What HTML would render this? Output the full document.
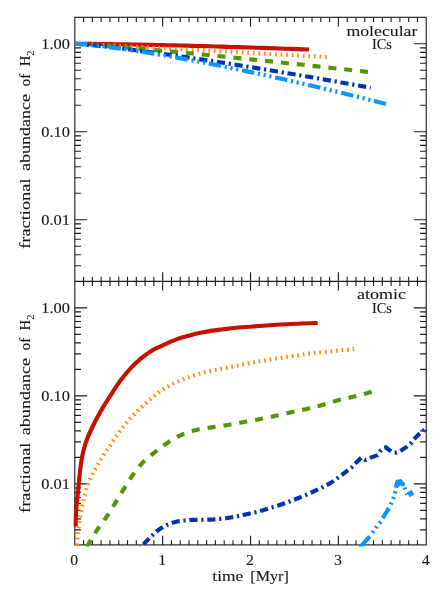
<!DOCTYPE html>
<html><head><meta charset="utf-8"><title>Fractional abundance of H2</title>
<style>html,body{margin:0;padding:0;background:#fff}svg{display:block;will-change:transform}text{font-family:"Liberation Serif",serif;fill:#151515;stroke:#151515;stroke-width:0.1px}.c path{fill:none;stroke-width:4.15;stroke-linecap:butt;stroke-linejoin:miter}</style></head><body>
<svg width="443" height="598" viewBox="0 0 443 598">
<rect width="443" height="598" fill="#fff"/>
<defs><clipPath id="cb"><rect x="0" y="281.4" width="443" height="265"/></clipPath></defs>
<g fill="none" stroke="#1c1c1c" stroke-width="1.12">
<rect x="74.8" y="17.3" width="351.45" height="527.6"/>
<path d="M74.8 281.4H426.25"/>
<path d="M83.59 17.3L83.59 21.9M83.59 276.8L83.59 286M83.59 540.3L83.59 544.9M92.37 17.3L92.37 21.9M92.37 276.8L92.37 286M92.37 540.3L92.37 544.9M101.16 17.3L101.16 21.9M101.16 276.8L101.16 286M101.16 540.3L101.16 544.9M109.94 17.3L109.94 21.9M109.94 276.8L109.94 286M109.94 540.3L109.94 544.9M118.73 17.3L118.73 21.9M118.73 276.8L118.73 286M118.73 540.3L118.73 544.9M127.52 17.3L127.52 21.9M127.52 276.8L127.52 286M127.52 540.3L127.52 544.9M136.3 17.3L136.3 21.9M136.3 276.8L136.3 286M136.3 540.3L136.3 544.9M145.09 17.3L145.09 21.9M145.09 276.8L145.09 286M145.09 540.3L145.09 544.9M153.88 17.3L153.88 21.9M153.88 276.8L153.88 286M153.88 540.3L153.88 544.9M162.66 17.3L162.66 26.5M162.66 272.2L162.66 290.6M162.66 535.7L162.66 544.9M171.45 17.3L171.45 21.9M171.45 276.8L171.45 286M171.45 540.3L171.45 544.9M180.23 17.3L180.23 21.9M180.23 276.8L180.23 286M180.23 540.3L180.23 544.9M189.02 17.3L189.02 21.9M189.02 276.8L189.02 286M189.02 540.3L189.02 544.9M197.81 17.3L197.81 21.9M197.81 276.8L197.81 286M197.81 540.3L197.81 544.9M206.59 17.3L206.59 21.9M206.59 276.8L206.59 286M206.59 540.3L206.59 544.9M215.38 17.3L215.38 21.9M215.38 276.8L215.38 286M215.38 540.3L215.38 544.9M224.17 17.3L224.17 21.9M224.17 276.8L224.17 286M224.17 540.3L224.17 544.9M232.95 17.3L232.95 21.9M232.95 276.8L232.95 286M232.95 540.3L232.95 544.9M241.74 17.3L241.74 21.9M241.74 276.8L241.74 286M241.74 540.3L241.74 544.9M250.52 17.3L250.52 26.5M250.52 272.2L250.52 290.6M250.52 535.7L250.52 544.9M259.31 17.3L259.31 21.9M259.31 276.8L259.31 286M259.31 540.3L259.31 544.9M268.1 17.3L268.1 21.9M268.1 276.8L268.1 286M268.1 540.3L268.1 544.9M276.88 17.3L276.88 21.9M276.88 276.8L276.88 286M276.88 540.3L276.88 544.9M285.67 17.3L285.67 21.9M285.67 276.8L285.67 286M285.67 540.3L285.67 544.9M294.46 17.3L294.46 21.9M294.46 276.8L294.46 286M294.46 540.3L294.46 544.9M303.24 17.3L303.24 21.9M303.24 276.8L303.24 286M303.24 540.3L303.24 544.9M312.03 17.3L312.03 21.9M312.03 276.8L312.03 286M312.03 540.3L312.03 544.9M320.81 17.3L320.81 21.9M320.81 276.8L320.81 286M320.81 540.3L320.81 544.9M329.6 17.3L329.6 21.9M329.6 276.8L329.6 286M329.6 540.3L329.6 544.9M338.39 17.3L338.39 26.5M338.39 272.2L338.39 290.6M338.39 535.7L338.39 544.9M347.17 17.3L347.17 21.9M347.17 276.8L347.17 286M347.17 540.3L347.17 544.9M355.96 17.3L355.96 21.9M355.96 276.8L355.96 286M355.96 540.3L355.96 544.9M364.75 17.3L364.75 21.9M364.75 276.8L364.75 286M364.75 540.3L364.75 544.9M373.53 17.3L373.53 21.9M373.53 276.8L373.53 286M373.53 540.3L373.53 544.9M382.32 17.3L382.32 21.9M382.32 276.8L382.32 286M382.32 540.3L382.32 544.9M391.1 17.3L391.1 21.9M391.1 276.8L391.1 286M391.1 540.3L391.1 544.9M399.89 17.3L399.89 21.9M399.89 276.8L399.89 286M399.89 540.3L399.89 544.9M408.68 17.3L408.68 21.9M408.68 276.8L408.68 286M408.68 540.3L408.68 544.9M417.46 17.3L417.46 21.9M417.46 276.8L417.46 286M417.46 540.3L417.46 544.9M74.8 43.79L87.1 43.79M413.95 43.79L426.25 43.79M74.8 131.79L87.1 131.79M413.95 131.79L426.25 131.79M74.8 105.3L80.95 105.3M420.1 105.3L426.25 105.3M74.8 89.8L80.95 89.8M420.1 89.8L426.25 89.8M74.8 78.81L80.95 78.81M420.1 78.81L426.25 78.81M74.8 70.28L80.95 70.28M420.1 70.28L426.25 70.28M74.8 63.31L80.95 63.31M420.1 63.31L426.25 63.31M74.8 57.42L80.95 57.42M420.1 57.42L426.25 57.42M74.8 52.32L80.95 52.32M420.1 52.32L426.25 52.32M74.8 47.82L80.95 47.82M420.1 47.82L426.25 47.82M74.8 219.79L87.1 219.79M413.95 219.79L426.25 219.79M74.8 193.3L80.95 193.3M420.1 193.3L426.25 193.3M74.8 177.8L80.95 177.8M420.1 177.8L426.25 177.8M74.8 166.81L80.95 166.81M420.1 166.81L426.25 166.81M74.8 158.28L80.95 158.28M420.1 158.28L426.25 158.28M74.8 151.31L80.95 151.31M420.1 151.31L426.25 151.31M74.8 145.42L80.95 145.42M420.1 145.42L426.25 145.42M74.8 140.32L80.95 140.32M420.1 140.32L426.25 140.32M74.8 135.82L80.95 135.82M420.1 135.82L426.25 135.82M74.8 265.8L80.95 265.8M420.1 265.8L426.25 265.8M74.8 254.81L80.95 254.81M420.1 254.81L426.25 254.81M74.8 246.28L80.95 246.28M420.1 246.28L426.25 246.28M74.8 239.31L80.95 239.31M420.1 239.31L426.25 239.31M74.8 233.42L80.95 233.42M420.1 233.42L426.25 233.42M74.8 228.32L80.95 228.32M420.1 228.32L426.25 228.32M74.8 223.82L80.95 223.82M420.1 223.82L426.25 223.82M74.8 307.89L87.1 307.89M413.95 307.89L426.25 307.89M74.8 395.89L87.1 395.89M413.95 395.89L426.25 395.89M74.8 369.4L80.95 369.4M420.1 369.4L426.25 369.4M74.8 353.9L80.95 353.9M420.1 353.9L426.25 353.9M74.8 342.91L80.95 342.91M420.1 342.91L426.25 342.91M74.8 334.38L80.95 334.38M420.1 334.38L426.25 334.38M74.8 327.41L80.95 327.41M420.1 327.41L426.25 327.41M74.8 321.52L80.95 321.52M420.1 321.52L426.25 321.52M74.8 316.42L80.95 316.42M420.1 316.42L426.25 316.42M74.8 311.92L80.95 311.92M420.1 311.92L426.25 311.92M74.8 483.89L87.1 483.89M413.95 483.89L426.25 483.89M74.8 457.4L80.95 457.4M420.1 457.4L426.25 457.4M74.8 441.9L80.95 441.9M420.1 441.9L426.25 441.9M74.8 430.91L80.95 430.91M420.1 430.91L426.25 430.91M74.8 422.38L80.95 422.38M420.1 422.38L426.25 422.38M74.8 415.41L80.95 415.41M420.1 415.41L426.25 415.41M74.8 409.52L80.95 409.52M420.1 409.52L426.25 409.52M74.8 404.42L80.95 404.42M420.1 404.42L426.25 404.42M74.8 399.92L80.95 399.92M420.1 399.92L426.25 399.92M74.8 529.9L80.95 529.9M420.1 529.9L426.25 529.9M74.8 518.91L80.95 518.91M420.1 518.91L426.25 518.91M74.8 510.38L80.95 510.38M420.1 510.38L426.25 510.38M74.8 503.41L80.95 503.41M420.1 503.41L426.25 503.41M74.8 497.52L80.95 497.52M420.1 497.52L426.25 497.52M74.8 492.42L80.95 492.42M420.1 492.42L426.25 492.42M74.8 487.92L80.95 487.92M420.1 487.92L426.25 487.92"/>
</g>
<g class="c">
<path d="M74.8 43.79 L80.66 43.81 L86.51 43.86 L92.36 43.91 L98.22 43.97 L104.07 44.05 L109.93 44.13 L115.78 44.21 L121.64 44.31 L127.49 44.41 L133.35 44.51 L139.2 44.62 L145.06 44.74 L150.91 44.86 L156.77 44.98 L162.62 45.11 L168.48 45.25 L174.33 45.39 L180.19 45.53 L186.05 45.68 L191.9 45.83 L197.75 45.98 L203.61 46.14 L209.46 46.3 L215.32 46.47 L221.18 46.64 L227.03 46.81 L232.88 46.98 L238.74 47.16 L244.59 47.35 L250.45 47.53 L256.31 47.72 L262.16 47.91 L268.01 48.11 L273.87 48.3 L279.73 48.5 L285.58 48.71 L291.44 48.91 L297.29 49.12 L303.14 49.34 L309 49.55" stroke="#c41100"/>
<path d="M74.8 43.79 L81.11 44.07 L87.41 44.36 L93.72 44.67 L100.03 44.98 L106.34 45.29 L112.65 45.61 L118.95 45.93 L125.26 46.25 L131.57 46.57 L137.88 46.9 L144.18 47.22 L150.49 47.55 L156.8 47.88 L163.11 48.21 L169.41 48.54 L175.72 48.88 L182.03 49.21 L188.34 49.55 L194.64 49.88 L200.95 50.22 L207.26 50.56 L213.56 50.9 L219.87 51.23 L226.18 51.57 L232.49 51.92 L238.8 52.26 L245.1 52.6 L251.41 52.94 L257.72 53.29 L264.02 53.63 L270.33 53.97 L276.64 54.32 L282.95 54.67 L289.25 55.01 L295.56 55.36 L301.87 55.71 L308.18 56.05 L314.49 56.4 L320.79 56.75 L327.1 57.1" stroke="#ff8c0a" stroke-dasharray="1.7 3.87"/>
<path d="M74.8 43.79 L82.14 44.18 L89.48 44.66 L96.83 45.19 L104.17 45.74 L111.51 46.32 L118.85 46.91 L126.2 47.53 L133.54 48.15 L140.88 48.79 L148.22 49.44 L155.57 50.1 L162.91 50.77 L170.25 51.45 L177.59 52.14 L184.94 52.83 L192.28 53.54 L199.62 54.25 L206.96 54.96 L214.31 55.69 L221.65 56.41 L228.99 57.15 L236.33 57.89 L243.68 58.64 L251.02 59.39 L258.36 60.14 L265.7 60.91 L273.05 61.67 L280.39 62.44 L287.73 63.22 L295.07 64 L302.42 64.78 L309.76 65.57 L317.1 66.36 L324.44 67.15 L331.79 67.95 L339.13 68.75 L346.47 69.56 L353.81 70.37 L361.16 71.18 L368.5 72" stroke="#559600" stroke-dasharray="8.01 7.91"/>
<path d="M74.8 43.79 L82.2 44.29 L89.59 44.95 L96.99 45.68 L104.39 46.47 L111.79 47.31 L119.19 48.18 L126.58 49.08 L133.98 50.01 L141.38 50.97 L148.77 51.95 L156.17 52.95 L163.57 53.97 L170.97 55.01 L178.36 56.07 L185.76 57.14 L193.16 58.23 L200.56 59.33 L207.95 60.45 L215.35 61.58 L222.75 62.72 L230.15 63.87 L237.54 65.04 L244.94 66.22 L252.34 67.41 L259.74 68.61 L267.13 69.82 L274.53 71.04 L281.93 72.27 L289.33 73.51 L296.73 74.76 L304.12 76.01 L311.52 77.28 L318.92 78.55 L326.31 79.84 L333.71 81.13 L341.11 82.43 L348.51 83.73 L355.9 85.05 L363.3 86.37 L370.7 87.7" stroke="#0032b4" stroke-dasharray="8.2 3.75 2.2 3.75"/>
<path d="M74.8 43.79 L82.58 44.26 L90.36 44.95 L98.14 45.77 L105.92 46.68 L113.7 47.67 L121.48 48.72 L129.26 49.83 L137.04 51 L144.82 52.21 L152.6 53.46 L160.38 54.75 L168.16 56.09 L175.94 57.46 L183.72 58.86 L191.5 60.29 L199.28 61.76 L207.06 63.25 L214.84 64.77 L222.62 66.32 L230.4 67.9 L238.18 69.5 L245.96 71.13 L253.74 72.78 L261.52 74.45 L269.3 76.14 L277.08 77.86 L284.86 79.6 L292.64 81.36 L300.42 83.13 L308.2 84.93 L315.98 86.75 L323.76 88.58 L331.54 90.44 L339.32 92.31 L347.1 94.2 L354.88 96.11 L362.66 98.03 L370.44 99.97 L378.22 101.93 L386 103.9" stroke="#0a96ff" stroke-dasharray="12.5 3.7 2.2 3.65 2.2 3.65 2.2 3.78"/>
</g>
<g class="c" clip-path="url(#cb)">
<path d="M75.7 526.5 C75.78 523.75 75.8 515.92 76.2 510 C76.6 504.08 77.52 497 78.1 491 C78.68 485 79.02 479.77 79.7 474 C80.38 468.23 81.15 461.73 82.2 456.4 C83.25 451.07 84.53 446.4 86 442 C87.47 437.6 88.58 435.07 91 430 C93.42 424.93 97.23 417.38 100.5 411.6 C103.77 405.82 107.22 400.55 110.6 395.3 C113.98 390.05 117.4 384.67 120.8 380.1 C124.2 375.53 127.62 371.52 131 367.9 C134.38 364.28 137.72 361.22 141.1 358.4 C144.48 355.58 148.15 352.97 151.3 351 C154.45 349.03 156.85 348.12 160 346.6 C163.15 345.08 166.82 343.33 170.2 341.9 C173.58 340.47 176.92 339.12 180.3 338 C183.68 336.88 187.12 336.07 190.5 335.2 C193.88 334.33 197.22 333.52 200.6 332.8 C203.98 332.08 207.4 331.45 210.8 330.9 C214.2 330.35 217.62 329.93 221 329.5 C224.38 329.07 227.72 328.67 231.1 328.3 C234.48 327.93 238.15 327.57 241.3 327.3 C244.45 327.03 245.17 327.05 250 326.7 C254.83 326.35 263.53 325.65 270.3 325.2 C277.07 324.75 282.7 324.37 290.6 324 C298.5 323.63 313.18 323.17 317.7 323" stroke="#c41100"/>
<path d="M77 548 L77.03 547.4 L77.07 546.64 L77.11 545.74 L77.16 544.74 L77.21 543.65 L77.26 542.49 L77.32 541.3 L77.39 540.1 L77.46 538.9 L77.53 537.73 L77.61 536.63 L77.7 535.6 L77.79 534.65 L77.87 533.76 L77.96 532.9 L78.05 532.07 L78.15 531.25 L78.25 530.42 L78.36 529.57 L78.48 528.69 L78.61 527.75 L78.76 526.75 L78.92 525.67 L79.1 524.5 L79.3 523.22 L79.51 521.86 L79.73 520.41 L79.97 518.9 L80.22 517.33 L80.48 515.74 L80.75 514.12 L81.03 512.49 L81.31 510.87 L81.61 509.28 L81.9 507.71 L82.2 506.2 L82.51 504.7 L82.83 503.18 L83.16 501.64 L83.5 500.09 L83.84 498.56 L84.19 497.04 L84.55 495.55 L84.9 494.1 L85.26 492.7 L85.61 491.36 L85.96 490.09 L86.3 488.9 L86.62 487.82 L86.93 486.86 L87.21 485.99 L87.49 485.19 L87.77 484.44 L88.05 483.73 L88.35 483.01 L88.67 482.29 L89.01 481.52 L89.4 480.7 L89.82 479.8 L90.3 478.8 L90.83 477.7 L91.4 476.54 L92.01 475.31 L92.66 474.04 L93.33 472.74 L94.03 471.41 L94.74 470.06 L95.47 468.71 L96.2 467.37 L96.94 466.05 L97.67 464.75 L98.4 463.5 L99.12 462.29 L99.83 461.11 L100.55 459.96 L101.27 458.83 L102 457.7 L102.74 456.58 L103.5 455.44 L104.27 454.28 L105.06 453.1 L105.88 451.88 L106.72 450.62 L107.6 449.3 L108.51 447.91 L109.47 446.46 L110.46 444.94 L111.48 443.39 L112.52 441.8 L113.57 440.21 L114.64 438.61 L115.7 437.04 L116.75 435.49 L117.79 434 L118.81 432.56 L119.8 431.2 L120.77 429.9 L121.74 428.65 L122.7 427.42 L123.65 426.24 L124.59 425.08 L125.53 423.96 L126.46 422.86 L127.39 421.79 L128.3 420.74 L129.21 419.71 L130.11 418.69 L131 417.7 L131.88 416.73 L132.75 415.8 L133.6 414.89 L134.44 414.01 L135.28 413.16 L136.11 412.33 L136.94 411.5 L137.77 410.7 L138.59 409.9 L139.42 409.1 L140.26 408.3 L141.1 407.5 L141.95 406.7 L142.81 405.9 L143.68 405.1 L144.55 404.31 L145.42 403.53 L146.29 402.76 L147.15 401.99 L148.01 401.24 L148.85 400.51 L149.69 399.79 L150.5 399.08 L151.3 398.4 L152.07 397.74 L152.82 397.09 L153.55 396.46 L154.26 395.85 L154.96 395.25 L155.65 394.66 L156.34 394.09 L157.04 393.52 L157.75 392.96 L158.48 392.4 L159.23 391.85 L160 391.3 L160.8 390.75 L161.61 390.21 L162.45 389.67 L163.29 389.14 L164.15 388.62 L165.01 388.1 L165.88 387.59 L166.75 387.09 L167.62 386.6 L168.49 386.12 L169.35 385.66 L170.2 385.2 L171.04 384.76 L171.89 384.33 L172.73 383.91 L173.57 383.5 L174.41 383.1 L175.25 382.71 L176.09 382.33 L176.93 381.96 L177.77 381.59 L178.61 381.22 L179.46 380.86 L180.3 380.5 L181.15 380.14 L182 379.8 L182.85 379.45 L183.7 379.11 L184.55 378.78 L185.4 378.46 L186.25 378.13 L187.1 377.82 L187.95 377.51 L188.8 377.2 L189.65 376.9 L190.5 376.6 L191.34 376.31 L192.19 376.02 L193.03 375.73 L193.87 375.46 L194.71 375.18 L195.55 374.91 L196.39 374.65 L197.23 374.39 L198.07 374.13 L198.91 373.88 L199.76 373.64 L200.6 373.4 L201.45 373.17 L202.29 372.94 L203.14 372.71 L203.99 372.5 L204.84 372.28 L205.69 372.07 L206.54 371.87 L207.4 371.67 L208.25 371.47 L209.1 371.28 L209.95 371.09 L210.8 370.9 L211.65 370.72 L212.5 370.54 L213.35 370.36 L214.2 370.2 L215.06 370.03 L215.91 369.87 L216.76 369.71 L217.61 369.55 L218.46 369.39 L219.31 369.23 L220.15 369.07 L221 368.9 L221.84 368.73 L222.69 368.57 L223.53 368.4 L224.37 368.23 L225.21 368.07 L226.05 367.9 L226.89 367.73 L227.73 367.57 L228.57 367.4 L229.41 367.23 L230.26 367.07 L231.1 366.9 L231.94 366.73 L232.77 366.57 L233.58 366.41 L234.4 366.25 L235.22 366.09 L236.04 365.93 L236.87 365.77 L237.71 365.6 L238.57 365.44 L239.45 365.26 L240.36 365.08 L241.3 364.9 L242.26 364.71 L243.23 364.52 L244.21 364.32 L245.21 364.11 L246.23 363.91 L247.27 363.7 L248.33 363.49 L249.41 363.27 L250.51 363.06 L251.65 362.84 L252.81 362.62 L253.2 362.55" stroke="#ff8c0a" stroke-dasharray="1.7 3.88" stroke-dashoffset="2.59"/>
<path d="M253.2 362.55 L254 362.4 L255.22 362.18 L256.46 361.96 L257.73 361.73 L259.02 361.51 L260.33 361.28 L261.68 361.05 L263.04 360.82 L264.44 360.58 L265.86 360.34 L267.31 360.1 L268.79 359.85 L270.3 359.6 L271.85 359.34 L273.45 359.08 L275.09 358.8 L276.77 358.53 L278.47 358.25 L280.19 357.96 L281.93 357.68 L283.68 357.4 L285.42 357.12 L287.16 356.84 L288.89 356.57 L290.6 356.3 L292.3 356.04 L294 355.77 L295.7 355.51 L297.4 355.24 L299.1 354.98 L300.8 354.73 L302.5 354.47 L304.2 354.22 L305.9 353.98 L307.6 353.74 L309.3 353.52 L311 353.3 L312.69 353.09 L314.36 352.9 L316.02 352.71 L317.68 352.54 L319.33 352.37 L320.99 352.2 L322.66 352.04 L324.34 351.87 L326.04 351.71 L327.77 351.55 L329.52 351.38 L331.3 351.2 L333.19 351.01 L335.23 350.81 L337.38 350.61 L339.59 350.39 L341.82 350.18 L344.02 349.97 L346.15 349.77 L348.17 349.57 L350.02 349.4 L351.68 349.24 L353.09 349.11 L354.2 349" stroke="#ff8c0a" stroke-dasharray="1.7 3.88"/>
<path d="M86.2 548 L86.29 547.83 L86.38 547.67 L86.46 547.51 L86.56 547.32 L86.67 547.11 L86.81 546.86 L86.98 546.55 L87.19 546.18 L87.44 545.73 L87.76 545.19 L88.14 544.55 L88.6 543.8 L89.14 542.91 L89.76 541.88 L90.46 540.73 L91.21 539.48 L92.02 538.16 L92.86 536.77 L93.73 535.36 L94.62 533.93 L95 533.32" stroke="#559600" stroke-dasharray="8 7.9" stroke-dashoffset="14.68"/>
<path d="M95 533.32 L95.51 532.51 L96.39 531.11 L97.26 529.77 L98.1 528.5 L98.93 527.27 L99.78 526.06 L100.65 524.85 L101.53 523.65 L102.41 522.45 L103.29 521.27 L104.16 520.09 L105.03 518.92 L105.88 517.75 L106.71 516.6 L107.52 515.44 L108.3 514.3 L109.05 513.16 L109.77 512.04 L110.47 510.93 L111.16 509.83 L111.82 508.73 L112.48 507.64 L113.13 506.55 L113.78 505.46 L114.42 504.38 L115.07 503.29 L115.73 502.2 L116.4 501.1 L117.07 500 L117.74 498.91 L118.4 497.82 L119.06 496.74 L119.72 495.65 L120.38 494.56 L121.05 493.47 L121.72 492.37 L122.4 491.27 L123.09 490.16 L123.79 489.04 L124.5 487.9 L125.23 486.75 L125.96 485.57 L126.7 484.37 L127.45 483.17 L128.21 481.95 L128.97 480.74 L129.75 479.53 L130.53 478.32 L131.31 477.13 L132.1 475.96 L132.9 474.82 L133.7 473.7 L134.5 472.61 L135.31 471.53 L136.11 470.46 L136.92 469.41 L137.74 468.37 L138.56 467.35 L139.4 466.34 L140.24 465.34 L141.11 464.36 L141.98 463.39 L142.88 462.44 L143.8 461.5 L144.74 460.58 L145.71 459.67 L146.69 458.79 L147.69 457.92 L148.71 457.06 L149.74 456.22 L150.77 455.38 L151.82 454.56 L152.87 453.74 L153.91 452.92 L154.96 452.11 L156 451.3 L157.04 450.49 L158.09 449.67 L159.15 448.86 L160.21 448.05 L161.28 447.24 L162.34 446.45 L163.41 445.67 L164.48 444.9 L165.54 444.14 L166.6 443.41 L167.65 442.69 L168.7 442 L169.73 441.33 L170.73 440.68 L171.73 440.04 L172.71 439.43 L173.69 438.82 L174.67 438.24 L175.66 437.67 L176.67 437.11 L177.7 436.56 L178.76 436.03 L179.86 435.51 L181 435 L182.18 434.5 L183.4 434.01 L184.65 433.54 L185.93 433.07 L187.24 432.62 L188.56 432.18 L189.89 431.76 L191.23 431.35 L192.58 430.96 L193.93 430.59 L195.27 430.23 L196.6 429.9 L197.93 429.59 L199.26 429.31 L200.61 429.05 L201.95 428.81 L203.3 428.59 L204.66 428.38 L206.01 428.18 L207.37 427.99 L208.73 427.8 L210.09 427.6 L211.44 427.41 L212.8 427.2 L214.16 426.99 L215.51 426.79 L216.87 426.6 L218.23 426.4 L219.59 426.21 L220.95 426.03 L222.31 425.83 L223.67 425.64 L225.03 425.44 L226.39 425.24 L227.74 425.02 L229.1 424.8 L230.46 424.56 L231.83 424.32 L233.21 424.06 L234.6 423.79 L235.98 423.52 L237.36 423.25 L238.73 422.98 L240.08 422.71 L241.42 422.44 L242.74 422.18 L244.03 421.94 L245.3 421.7 L246.53 421.48 L247.72 421.27 L248.88 421.07 L250.02 420.88 L251.14 420.69 L252.26 420.51 L253.37 420.32 L254.48 420.13 L255.6 419.94 L256.74 419.74 L257.91 419.53 L259.1 419.3 L260.32 419.06 L261.55 418.82 L262.8 418.57 L264.06 418.31 L265.32 418.05 L266.6 417.78 L267.89 417.51 L269.18 417.23 L270.48 416.95 L271.78 416.67 L273.09 416.39 L274.4 416.1 L275.72 415.81 L277.05 415.51 L278.38 415.21 L279.73 414.9 L281.08 414.58 L282.44 414.27 L283.8 413.95 L285.16 413.64 L286.52 413.32 L287.88 413.01 L289.24 412.7 L290.6 412.4 L291.96 412.1 L293.32 411.81 L294.69 411.52 L296.07 411.23 L297.44 410.94 L298.81 410.66 L300.18 410.37 L301.54 410.08 L302.9 409.79 L304.25 409.5 L305.58 409.2 L306.9 408.9 L308.2 408.6 L309.5 408.29 L310.77 407.99 L312.04 407.69 L313.31 407.38 L314.56 407.07 L315.82 406.76 L317.07 406.44 L318.32 406.12 L319.57 405.79 L320.83 405.45 L322.1 405.1 L323.37 404.74 L324.65 404.35 L325.93 403.96 L327.21 403.55 L328.49 403.14 L329.78 402.73 L331.06 402.31 L332.33 401.9 L333.61 401.5 L334.88 401.12 L336.14 400.75 L337.4 400.4 L338.63 400.08 L339.84 399.78 L341.02 399.5 L342.18 399.24 L343.34 398.99 L344.51 398.74 L345.7 398.49 L346.91 398.23 L348.15 397.95 L348.5 397.87" stroke="#559600" stroke-dasharray="8.07 7.97"/>
<path d="M348.5 397.87 L349.44 397.66 L350.79 397.35 L352.2 397 L353.74 396.61 L355.45 396.17 L357.28 395.68 L359.19 395.18 L361.14 394.66 L363.07 394.14 L364 393.89" stroke="#559600" stroke-dasharray="8.05 7.95"/>
<path d="M364 393.89 L364.96 393.63 L366.75 393.14 L368.4 392.7 L369.88 392.3 L371.12 391.96 L372.1 391.7" stroke="#559600" stroke-dasharray="8 7.9"/>
<path d="M140.5 548 L140.66 547.81 L140.82 547.59 L141.01 547.35 L141.22 547.08 L141.45 546.78 L141.71 546.44 L142.01 546.08 L142.34 545.68 L142.71 545.24 L143.12 544.77 L143.59 544.25 L144.1 543.7 L144.68 543.08 L145.33 542.39 L146.04 541.64 L146.8 540.84 L147.6 540 L148.43 539.14 L149.28 538.27 L150.14 537.4 L151.01 536.54 L151.86 535.72 L152.69 534.93 L153.5 534.2 L154.28 533.51 L155.05 532.83 L155.8 532.16 L156.56 531.51 L157.31 530.88 L158.07 530.26 L158.85 529.66 L159.63 529.07 L160.43 528.5 L161.26 527.95 L162.11 527.42 L163 526.9 L163.92 526.4 L164.86 525.91 L165.83 525.44 L166.81 524.98 L167.82 524.54 L168.84 524.11 L169.88 523.71 L170.93 523.32 L171.99 522.96 L173.05 522.62 L174.13 522.3 L175.2 522 L176.28 521.73 L177.39 521.49 L178.5 521.28 L179.63 521.09 L180.77 520.91 L181.92 520.76 L183.07 520.63 L184.22 520.5 L185.37 520.39 L186.52 520.29 L187.67 520.19 L188.8 520.1 L189.93 520.02 L191.06 519.96 L192.18 519.92 L193.31 519.89 L194.43 519.87 L195.56 519.86 L196.68 519.86 L197.8 519.86 L198.93 519.85 L200.05 519.84 L201.18 519.83 L202.3 519.8 L203.42 519.77 L204.55 519.74 L205.67 519.71 L206.8 519.69 L207.92 519.66 L209.04 519.63 L210.17 519.6 L211.29 519.56 L212.42 519.51 L213.54 519.45 L214.67 519.38 L215.8 519.3 L216.93 519.21 L218.06 519.11 L219.2 519 L220.33 518.89 L221.46 518.77 L222.6 518.64 L223.74 518.5 L224.87 518.36 L226 518.2 L227.14 518.04 L228.27 517.88 L229.4 517.7 L230.53 517.51 L231.65 517.32 L232.78 517.11 L233.9 516.89 L235.03 516.67 L236.15 516.44 L237.27 516.2 L238.4 515.96 L239.52 515.72 L240.65 515.48 L241.77 515.24 L242.9 515 L244.05 514.76 L245.24 514.5 L246.46 514.24 L247.69 513.98 L248.92 513.71 L250.14 513.44 L251.33 513.18 L252.49 512.92 L253.6 512.67 L254.64 512.43 L255.61 512.21 L256.5 512 L257.26 511.82 L257.87 511.67 L258.37 511.55 L258.79 511.44 L259.16 511.35 L259.51 511.25 L259.88 511.14 L260.29 511.02 L260.77 510.88 L261.37 510.69 L262.1 510.47 L263 510.2 L264.07 509.88 L265.27 509.52 L266.58 509.13 L267.99 508.71 L269.48 508.26 L271.02 507.79 L272.6 507.31 L274.2 506.81 L275.79 506.31 L277.37 505.81 L278.92 505.3 L280.4 504.8 L281.85 504.3 L283.3 503.79 L284.75 503.28 L286.2 502.76 L287.65 502.23 L289.1 501.69 L290.55 501.14 L292 500.59 L293.45 500.03 L294.9 499.46 L296.35 498.88 L297.8 498.3 L299.26 497.71 L300.73 497.1 L302.2 496.48 L303.68 495.85 L305.16 495.22 L306.64 494.57 L308.11 493.93 L309.56 493.28 L311 492.63 L312.43 491.99 L313.83 491.34 L315.2 490.7 L316.56 490.06 L317.91 489.42 L319.26 488.78 L320.59 488.14 L321.91 487.5 L323.21 486.86 L324.48 486.21 L325.73 485.57 L326.95 484.93 L328.14 484.28 L329.29 483.64 L330.4 483 L331.49 482.33 L332.59 481.63 L333.68 480.89 L334.76 480.15 L335.8 479.4 L336.8 478.67 L337.75 477.96 L338.63 477.3 L339.44 476.68 L340.16 476.14 L340.79 475.67 L341.3 475.3 L348.1 470.1 L351.8 467.3 L355.2 463.6 L355.2 463.6" stroke="#0032b4" stroke-dasharray="8.2 3.75 2.2 3.75" stroke-dashoffset="13.12"/>
<path d="M355.2 463.6 L361.3 457.5 L365.4 459.9 L370.1 457.9 L377.6 455.1 L380.6 450.8 L383.7 447.8 L385.7 447.3 L392.4 452.4 L395.9 452.6 L399.9 451.4 L406.6 446.9 L410.5 443.7 L413.1 440.2 L414.1 439.17" stroke="#0032b4" stroke-dasharray="8.37 3.83 2.25 3.83"/>
<path d="M414.1 439.17 L419.6 433.5 L423.3 430.7 L426.2 428.5" stroke="#0032b4" stroke-dasharray="8.2 3.75 2.2 3.75"/>
<path d="M359.5 548 L361.8 545.3 L369.7 536.3 M372.5 532.9 L373.7 531.1 M375.8 528.1 L377 526.3 M379.4 523.4 L380.8 521.6 M382.7 518.2 L388.9 508.1 M390.7 504.5 L391.5 502.5 M393 498.9 L393.8 496.9 M394.8 493.4 L395.4 491.2 M395.8 487.6 L397.5 481.6 L400.4 481.4 L403.6 485 M404.6 487.5 L405.2 489.5 M406.3 493.2 L407 494.6" stroke="#0a96ff"/>
<path d="M408.4 494.9 L412.9 491.9" stroke="#0a96ff" style="stroke-width:5.4"/>
<path d="M394.6 487 L396 480.2 L397.6 481.2 L400.5 479.3 L405 484.9 L403.6 486.4 L400.3 485.3 L398.1 487.6Z" style="fill:#0a96ff;stroke:none"/>
</g>
<g>
<text x="41.26" y="48.69" font-size="14" textLength="28.78" lengthAdjust="spacingAndGlyphs">1.00</text>
<text x="41.26" y="136.69" font-size="14" textLength="28.78" lengthAdjust="spacingAndGlyphs">0.10</text>
<text x="41.26" y="224.69" font-size="14" textLength="28.78" lengthAdjust="spacingAndGlyphs">0.01</text>
<text x="41.26" y="312.79" font-size="14" textLength="28.78" lengthAdjust="spacingAndGlyphs">1.00</text>
<text x="41.26" y="400.79" font-size="14" textLength="28.78" lengthAdjust="spacingAndGlyphs">0.10</text>
<text x="41.26" y="488.79" font-size="14" textLength="28.78" lengthAdjust="spacingAndGlyphs">0.01</text>
<text font-size="14" text-anchor="middle" transform="translate(74.3 564.9) scale(1.13 1)">0</text>
<text font-size="14" text-anchor="middle" transform="translate(162.16 564.9) scale(1.13 1)">1</text>
<text font-size="14" text-anchor="middle" transform="translate(250.02 564.9) scale(1.13 1)">2</text>
<text font-size="14" text-anchor="middle" transform="translate(337.89 564.9) scale(1.13 1)">3</text>
<text font-size="14" text-anchor="middle" transform="translate(425.75 564.9) scale(1.13 1)">4</text>
<text x="212.37" y="581.1" font-size="14.5" textLength="30.94" lengthAdjust="spacingAndGlyphs">time</text>
<text x="250.3" y="581.1" font-size="14.5" textLength="38.47" lengthAdjust="spacingAndGlyphs">[Myr]</text>
<text x="346.41" y="35.6" font-size="15" textLength="70.97" lengthAdjust="spacingAndGlyphs">molecular</text>
<text x="371.92" y="48.5" font-size="14.5" textLength="19.97" lengthAdjust="spacingAndGlyphs">ICs</text>
<text x="357.08" y="298.9" font-size="14.5" textLength="49.02" lengthAdjust="spacingAndGlyphs">atomic</text>
<text x="371.92" y="312.5" font-size="14.5" textLength="19.97" lengthAdjust="spacingAndGlyphs">ICs</text>
<text transform="translate(30.2 248.84) rotate(-90)" font-size="14.5" textLength="70.4" lengthAdjust="spacingAndGlyphs">fractional</text>
<text transform="translate(30.2 512.94) rotate(-90)" font-size="14.5" textLength="70.4" lengthAdjust="spacingAndGlyphs">fractional</text>
<text transform="translate(30.2 171.1) rotate(-90)" font-size="14.5" textLength="77.25" lengthAdjust="spacingAndGlyphs">abundance</text>
<text transform="translate(30.2 435.2) rotate(-90)" font-size="14.5" textLength="77.25" lengthAdjust="spacingAndGlyphs">abundance</text>
<text transform="translate(30.2 86.14) rotate(-90)" font-size="14.5" textLength="12.38" lengthAdjust="spacingAndGlyphs">of</text>
<text transform="translate(30.2 350.24) rotate(-90)" font-size="14.5" textLength="12.38" lengthAdjust="spacingAndGlyphs">of</text>
<text transform="translate(30.2 66.06) rotate(-90)" font-size="14.5" textLength="15.43" lengthAdjust="spacingAndGlyphs">H<tspan font-size="10.3" dy="3.4">2</tspan></text>
<text transform="translate(30.2 330.16) rotate(-90)" font-size="14.5" textLength="15.43" lengthAdjust="spacingAndGlyphs">H<tspan font-size="10.3" dy="3.4">2</tspan></text>
</g>
</svg></body></html>
